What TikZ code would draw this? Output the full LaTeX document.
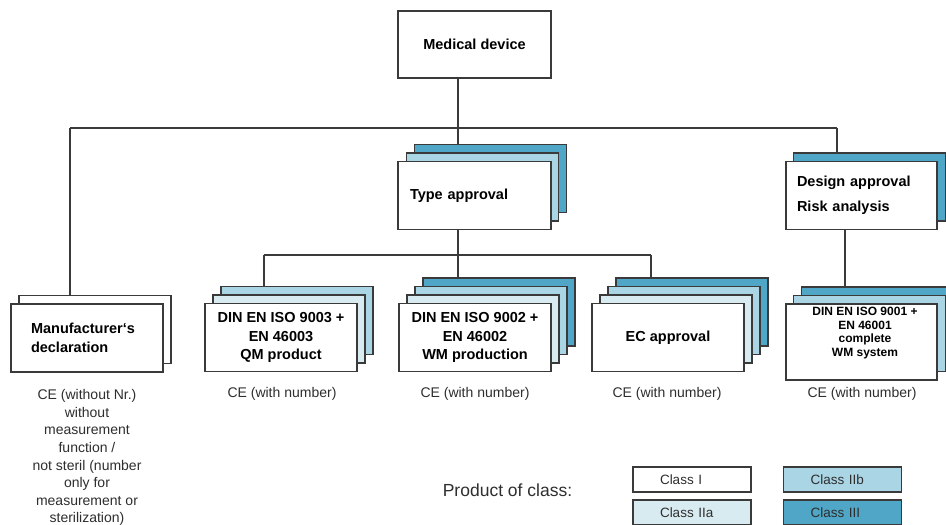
\documentclass[tikz,border=0pt]{standalone}
\usepackage{fontspec}
\setmainfont{Liberation Sans}
\definecolor{cIIa}{HTML}{D8EBF1}
\definecolor{cIIb}{HTML}{A9D5E5}
\definecolor{cIII}{HTML}{4FA6C6}
\definecolor{linec}{HTML}{3A3A3A}
\definecolor{txtc}{HTML}{2E2E2E}
\begin{document}
\begin{tikzpicture}[x=1pt,y=-1pt,
  box/.style={draw=linec, line width=1.3pt, fill=white, minimum width=152pt, minimum height=68pt, inner sep=0pt},
  tall/.style={minimum height=76pt},
  btext/.style={font=\fontsize{14.5}{18.5}\selectfont\bfseries, align=center},
  ltext/.style={font=\fontsize{14.5}{18.5}\selectfont\bfseries, align=left, text width=#1},
  stext/.style={font=\fontsize{12}{13.5}\selectfont\bfseries, align=center},
  ntext/.style={font=\fontsize{14}{17.6}\selectfont, text=txtc, align=center},
  legbox/.style={draw=linec, line width=1.3pt, minimum height=25pt, text width=64pt, inner xsep=27pt, inner ysep=0pt, align=left, font=\fontsize{13.5}{15}\selectfont, text=txtc},
  conn/.style={draw=linec, line width=1.2pt}
]
\useasboundingbox[fill=white] (0,0) rectangle (946,525);

% Medical device
\node[box, minimum width=153pt, minimum height=67pt, btext] (med) at (474.5,44.5) {Medical device};

% Type approval stack
\node[box, fill=cIII] (ta2) at (490.5,178.5) {};
\node[box, fill=cIIb] (ta1) at (482.5,187) {};
\node[box, minimum width=153pt, ltext=129pt, inner xsep=12pt] (ta) at (474.5,195.5) {Type approval};

% Design approval stack
\node[box, fill=cIII] (da1) at (869.5,187) {};
\node[box, minimum width=151pt, ltext=129pt, inner xsep=11pt] (da) at (861.5,195.5) {Design approval\\[6.5pt]Risk analysis};

% Manufacturer's declaration
\node[box] (md1) at (95,329.5) {};
\node[box, ltext=112pt, inner xsep=20pt] (md) at (87,338) {Manufacturer‘s\\declaration};

% DIN EN ISO 9003
\node[box, fill=cIIb] (d3b) at (297,320.5) {};
\node[box, fill=cIIa] (d3a) at (289,329) {};
\node[box, btext] (d3) at (281,337.5) {DIN EN ISO 9003 +\\EN 46003\\QM product};

% DIN EN ISO 9002
\node[box, fill=cIII] (d2c) at (499,312) {};
\node[box, fill=cIIb] (d2b) at (491,320.5) {};
\node[box, fill=cIIa] (d2a) at (483,329) {};
\node[box, btext] (d2) at (475,337.5) {DIN EN ISO 9002 +\\EN 46002\\WM production};

% EC approval
\node[box, fill=cIII] (ecc) at (692,312) {};
\node[box, fill=cIIb] (ecb) at (684,320.5) {};
\node[box, fill=cIIa] (eca) at (676,329) {};
\node[box, btext] (ec) at (668,337.5) {EC approval};

% DIN EN ISO 9001
\node[box, tall, fill=cIII] (d1b) at (877.5,325) {};
\node[box, tall, fill=cIIb] (d1a) at (869.5,333.5) {};
\node[box, tall, minimum width=151pt] (d1) at (861.5,342) {};
\node[stext] (d1t) at (865,333) {DIN EN ISO 9001 +\\EN 46001\\complete\\WM system};

% Connectors
\coordinate (bl) at (70,128);
\coordinate (br) at (837,128);
\coordinate (mv) at (458,128);
\coordinate (tl) at (264,255);
\coordinate (tr) at (651,255);
\coordinate (dv) at (845,255);
\draw[conn] (mv |- med.south) -- (mv |- ta2.north);
\draw[conn] (bl) -- (br);
\draw[conn] (bl) -- (bl |- md1.north);
\draw[conn] (br) -- (br |- da1.north);
\draw[conn] (mv |- ta.south) -- (mv |- d2c.north);
\draw[conn] (tl) -- (tr);
\draw[conn] (tl) -- (tl |- d3b.north);
\draw[conn] (tr) -- (tr |- ecc.north);
\draw[conn] (dv |- da.south) -- (dv |- d1b.north);

% Labels
\node[ntext, anchor=north] (mdl) at (87,386) {CE (without Nr.)\\without\\measurement\\function /\\not steril (number\\only for\\measurement or\\sterilization)};
\node[ntext] (d3l) at (282,394) {CE (with number)};
\node[ntext] (d2l) at (475,394) {CE (with number)};
\node[ntext] (ecl) at (667,394) {CE (with number)};
\node[ntext] (d1l) at (862,394) {CE (with number)};

% Legend
\node[font=\fontsize{17.5}{20}\selectfont, text=txtc] (poc) at (507.5,490) {Product of class:};
\node[legbox, fill=white] (l1) at (692,479.5) {Class I};
\node[legbox, fill=cIIa] (l2a) at (692,512.5) {Class IIa};
\node[legbox, fill=cIIb] (l2b) at (842.5,479.5) {Class IIb};
\node[legbox, fill=cIII] (l3) at (842.5,512.5) {Class III};
\end{tikzpicture}
\end{document}
